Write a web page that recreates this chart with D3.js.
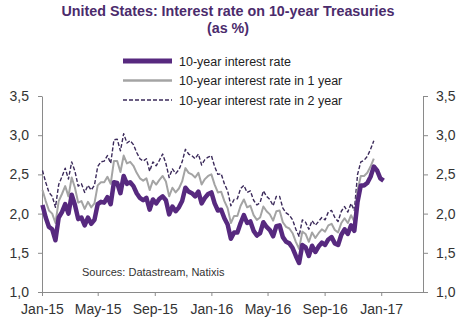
<!DOCTYPE html>
<html>
<head>
<meta charset="utf-8">
<script src="https://cdn.jsdelivr.net/npm/d3@7"></script>
<style>
  body { margin: 0; background: #fff; }
  svg { display: block; font-family: Arial, "Liberation Sans", sans-serif; }
</style>
</head>
<body>
<div id="chart"></div>
<script>
// weekly closes, first week = 2 Jan 2015
const firstWeek = "2015-01-02";

const rate10y = [
  2.11, 1.95, 1.83, 1.80, 1.66, 1.95, 2.02, 2.12, 2.00, 2.24,
  2.11, 1.93, 1.95, 1.85, 1.95, 1.87, 1.92, 2.12, 2.15, 2.14,
  2.21, 2.12, 2.40, 2.39, 2.26, 2.48, 2.38, 2.40, 2.35, 2.26,
  2.20, 2.17, 2.20, 2.05, 2.18, 2.13, 2.19, 2.22, 2.17, 1.99,
  2.09, 2.03, 2.08, 2.16, 2.33, 2.28, 2.26, 2.22, 2.28, 2.13,
  2.20, 2.25, 2.27, 2.13, 2.04, 2.05, 1.94, 1.86, 1.68, 1.76,
  1.76, 1.88, 1.98, 1.88, 1.90, 1.78, 1.72, 1.75, 1.89, 1.83,
  1.79, 1.71, 1.84, 1.85, 1.70, 1.64, 1.62, 1.56, 1.46, 1.37,
  1.60, 1.57, 1.46, 1.59, 1.51, 1.58, 1.63, 1.60, 1.67, 1.70,
  1.62, 1.60, 1.73, 1.80, 1.74, 1.85, 1.78, 2.15, 2.36, 2.36,
  2.39, 2.47, 2.60, 2.55, 2.45, 2.42
];

const rate1y = [
  2.30, 2.16, 2.04, 2.00, 1.88, 2.16, 2.25, 2.35, 2.22, 2.46,
  2.33, 2.14, 2.16, 2.06, 2.15, 2.08, 2.13, 2.36, 2.40, 2.40,
  2.47, 2.38, 2.67, 2.67, 2.53, 2.74, 2.64, 2.66, 2.61, 2.52,
  2.45, 2.42, 2.45, 2.30, 2.42, 2.37, 2.43, 2.48, 2.41, 2.22,
  2.33, 2.27, 2.32, 2.41, 2.58, 2.52, 2.50, 2.46, 2.52, 2.37,
  2.44, 2.48, 2.50, 2.37, 2.27, 2.28, 2.16, 2.07, 1.88, 1.97,
  1.97, 2.10, 2.18, 2.08, 2.10, 1.98, 1.92, 1.95, 2.09, 2.03,
  1.99, 1.91, 2.03, 2.04, 1.89, 1.83, 1.81, 1.75, 1.64, 1.55,
  1.77, 1.74, 1.64, 1.76, 1.69, 1.75, 1.80, 1.77, 1.85, 1.87,
  1.79, 1.76, 1.88, 1.94, 1.88, 1.98, 1.90, 2.30, 2.48, 2.48,
  2.52, 2.60, 2.70
];

const rate2y = [
  2.55, 2.40, 2.27, 2.22, 2.08, 2.37, 2.47, 2.58, 2.44, 2.66,
  2.54, 2.35, 2.38, 2.27, 2.36, 2.30, 2.36, 2.60, 2.66, 2.67,
  2.74, 2.64, 2.94, 2.95, 2.80, 3.02, 2.90, 2.93, 2.88, 2.78,
  2.70, 2.67, 2.70, 2.54, 2.66, 2.61, 2.68, 2.76, 2.64, 2.46,
  2.57, 2.51, 2.56, 2.66, 2.82, 2.76, 2.74, 2.70, 2.76, 2.62,
  2.69, 2.72, 2.74, 2.60, 2.50, 2.51, 2.38, 2.29, 2.10, 2.18,
  2.19, 2.32, 2.36, 2.27, 2.29, 2.17, 2.11, 2.14, 2.29, 2.22,
  2.18, 2.10, 2.22, 2.22, 2.07, 2.01, 1.98, 1.92, 1.80, 1.71,
  1.92, 1.89, 1.80, 1.91, 1.85, 1.90, 1.95, 1.92, 2.02, 2.04,
  1.95, 1.90, 2.03, 2.09, 2.02, 2.13, 2.04, 2.50, 2.66, 2.68,
  2.73, 2.82, 2.93
];

const yTicks = [1.0, 1.5, 2.0, 2.5, 3.0, 3.5];
const xDomain = ["2015-01-01", "2017-04-01"];

const series = [
  { name: "10-year interest rate", values: rate10y, color: "#57297f", width: 4.5, dash: null, legendWidth: 5 },
  { name: "10-year interest rate in 1 year", values: rate1y, color: "#a4a4a4", width: 2, dash: null, legendWidth: 2.5 },
  { name: "10-year interest rate in 2 year", values: rate2y, color: "#3b2a5a", width: 1.4, dash: "4,2", legendWidth: 1.6 }
];

const W = 472, H = 324;
const margin = { top: 96, right: 49, bottom: 32, left: 42 };

const parse = d3.utcParse("%Y-%m-%d");
const start = parse(firstWeek);
const toPoints = vals => vals.map((v, i) => ({ date: d3.utcDay.offset(start, 7 * i), value: v }));

const svg = d3.select("#chart").append("svg")
  .attr("width", W)
  .attr("height", H);

const x = d3.scaleUtc()
  .domain(xDomain.map(parse))
  .range([margin.left, W - margin.right]);

const y = d3.scaleLinear()
  .domain([1, 3.5])
  .range([H - margin.bottom, margin.top]);

const commaFmt = d => d3.format(".1f")(d).replace(".", ",");

// title
const title = svg.append("g")
  .attr("fill", "#4b2b6c")
  .attr("font-weight", "bold")
  .attr("font-size", "14.3px")
  .attr("text-anchor", "middle");
title.append("text").attr("x", 228).attr("y", 16)
  .text("United States: Interest rate on 10-year Treasuries");
title.append("text").attr("x", 228).attr("y", 32.5)
  .text("(as %)");

// axes
const axisColor = "#8a8a8a";
const styleAxis = g => {
  g.select(".domain").attr("stroke", axisColor);
  g.selectAll(".tick line").attr("stroke", axisColor);
  g.selectAll(".tick text").attr("fill", "#333").attr("font-size", "14px")
    .attr("font-family", "Arial, 'Liberation Sans', sans-serif");
};

svg.append("g")
  .attr("transform", `translate(${margin.left},0)`)
  .call(d3.axisLeft(y).tickValues(yTicks).tickFormat(commaFmt).tickSize(4).tickPadding(9).tickSizeOuter(0))
  .call(styleAxis);

svg.append("g")
  .attr("transform", `translate(${W - margin.right},0)`)
  .call(d3.axisRight(y).tickValues(yTicks).tickFormat(commaFmt).tickSize(5).tickPadding(8).tickSizeOuter(0))
  .call(styleAxis);

svg.append("g")
  .attr("transform", `translate(0,${H - margin.bottom})`)
  .call(d3.axisBottom(x).ticks(d3.utcMonth.every(4)).tickFormat(d3.utcFormat("%b-%y")).tickSize(4).tickPadding(8).tickSizeOuter(0))
  .call(styleAxis);

// lines, drawn back to front
const line = d3.line()
  .x(d => x(d.date))
  .y(d => y(d.value));

[series[2], series[1], series[0]].forEach(s => {
  svg.append("path")
    .datum(toPoints(s.values))
    .attr("fill", "none")
    .attr("stroke", s.color)
    .attr("stroke-width", s.width)
    .attr("stroke-linejoin", "round")
    .attr("stroke-dasharray", s.dash)
    .attr("d", line);
});

// legend
const legend = svg.append("g").attr("font-size", "12.5px").attr("fill", "#222");
series.forEach((s, i) => {
  const ly = 61 + i * 19.5;
  legend.append("line")
    .attr("x1", 123).attr("x2", 172)
    .attr("y1", ly).attr("y2", ly)
    .attr("stroke", s.color)
    .attr("stroke-width", s.legendWidth)
    .attr("stroke-dasharray", s.dash);
  legend.append("text")
    .attr("x", 179).attr("y", ly + 4.5)
    .text(s.name);
});

svg.append("text")
  .attr("x", 82).attr("y", 276)
  .attr("font-size", "11px")
  .attr("fill", "#333")
  .text("Sources: Datastream, Natixis");
</script>
</body>
</html>
